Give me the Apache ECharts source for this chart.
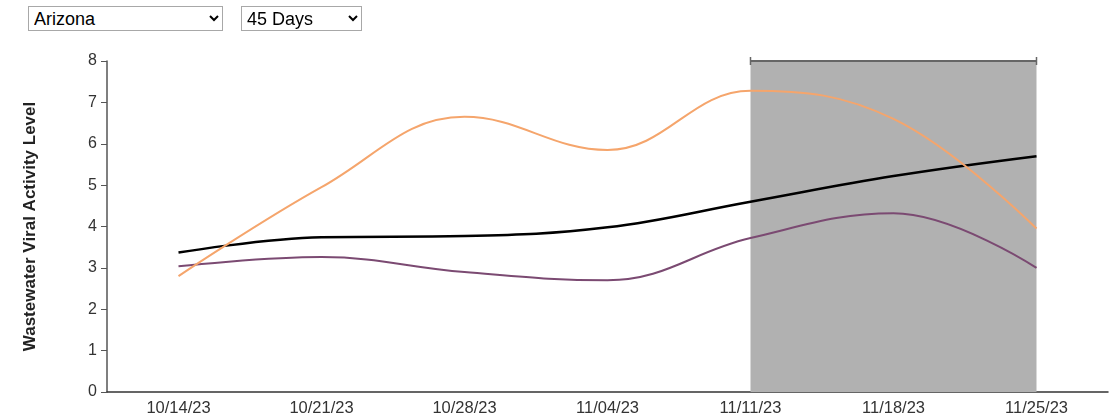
<!DOCTYPE html>
<html>
<head>
<meta charset="utf-8">
<script src="https://cdn.jsdelivr.net/npm/echarts@6/dist/echarts.min.js"></script>
<style>
  html, body { margin: 0; padding: 0; background: #fff; }
  #wrap { position: relative; width: 1116px; height: 419px; }
  #chart { position: absolute; left: 0; top: 0; width: 1116px; height: 419px; }
  select {
    position: absolute; top: 6px; height: 25px;
    font-family: "Liberation Sans", Arial, sans-serif; font-size: 18px; line-height: 23px;
    color: #000; background: #fff; border: 1px solid #a8a8a8; border-radius: 0;
    padding: 0 1px; z-index: 2;
  }
  #region { left: 28px; width: 195px; }
  #range { left: 241px; width: 121px; }
</style>
</head>
<body>
<div id="wrap">
  <select id="region"><option>Arizona</option></select>
  <select id="range"><option>45 Days</option></select>
  <div id="chart"></div>
</div>
<script>
// Week ending dates
const weeks = ['10/14/23', '10/21/23', '10/28/23', '11/04/23', '11/11/23', '11/18/23', '11/25/23'];
// Viral activity levels per week
const stateLevel = [2.8, 4.95, 6.65, 5.85, 7.28, 6.6, 3.95];
const nationalLevel = [3.37, 3.74, 3.77, 3.98, 4.6, 5.22, 5.7];
const regionalLevel = [3.04, 3.26, 2.9, 2.7, 3.72, 4.32, 3.0];
// Provisional data window
const provisionalRange = ['11/11/23', '11/25/23'];
const yTicks = [0, 1, 2, 3, 4, 5, 6, 7, 8];

const chart = echarts.init(document.getElementById('chart'), null, { renderer: 'canvas' });

const font = '"Liberation Sans", Arial, sans-serif';

function lineSeries(name, data, color, width) {
  return {
    name, type: 'line', data, z: 3,
    smooth: 0.4,
    showSymbol: false, symbol: 'none',
    lineStyle: { color, width },
    itemStyle: { color },
    animation: false
  };
}

chart.setOption({
  animation: false,
  grid: { left: 107, right: 8, top: 61, bottom: 27 },
  xAxis: {
    type: 'category',
    data: weeks,
    boundaryGap: true,
    axisLine: { lineStyle: { color: '#333', width: 1.5 } },
    axisTick: { show: false },
    axisLabel: { color: '#333', fontFamily: font, fontSize: 16.5, margin: 8 },
    splitLine: { show: false }
  },
  yAxis: {
    type: 'value',
    min: yTicks[0], max: yTicks[yTicks.length - 1], interval: 1,
    name: 'Wastewater Viral Activity Level',
    nameLocation: 'middle', nameGap: 68, nameRotate: 90,
    nameTextStyle: { color: '#222', fontFamily: font, fontSize: 17, fontWeight: 'bold' },
    axisLine: { show: true, lineStyle: { color: '#555', width: 1.5 } },
    axisTick: { show: true, length: 6, lineStyle: { color: '#555' } },
    axisLabel: { color: '#333', fontFamily: font, fontSize: 16, margin: 10 },
    splitLine: { show: false }
  },
  series: [
    {
      type: 'custom', z: 1, silent: true,
      data: [[weeks.indexOf(provisionalRange[0]), weeks.indexOf(provisionalRange[1]), yTicks[yTicks.length - 1]]],
      renderItem(params, api) {
        const p0 = api.coord([api.value(0), 0]);
        const p1 = api.coord([api.value(1), api.value(2)]);
        const x0 = p0[0], x1 = p1[0], yb = p0[1], yt = p1[1];
        const stroke = { stroke: '#666', lineWidth: 2 };
        return {
          type: 'group',
          children: [
            { type: 'rect', shape: { x: x0, y: yt, width: x1 - x0, height: yb - yt }, style: { fill: '#b1b1b1' } },
            { type: 'line', shape: { x1: x0, y1: yt, x2: x1, y2: yt }, style: stroke },
            { type: 'line', shape: { x1: x0, y1: yt - 4, x2: x0, y2: yt + 4 }, style: { stroke: '#666', lineWidth: 1.5 } },
            { type: 'line', shape: { x1: x1, y1: yt - 4, x2: x1, y2: yt + 4 }, style: { stroke: '#666', lineWidth: 1.5 } }
          ]
        };
      },
      clip: false
    },
    lineSeries('National', nationalLevel, '#000000', 2.5),
    lineSeries('Regional', regionalLevel, '#7b4a72', 2),
    lineSeries('Arizona', stateLevel, '#f5a56c', 2)
  ]
});
</script>
</body>
</html>
